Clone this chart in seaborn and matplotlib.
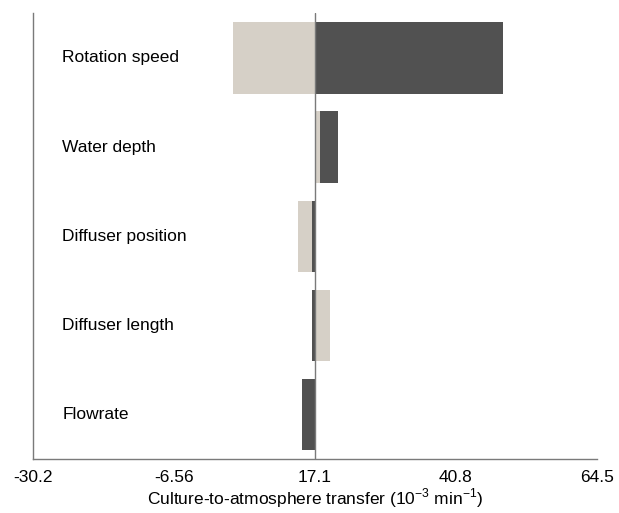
import numpy as np
import pandas as pd
import matplotlib
matplotlib.use("Agg")
import matplotlib.pyplot as plt
import seaborn as sns

# Tornado chart data
factors = ["Rotation speed", "Water depth", "Diffuser position", "Diffuser length", "Flowrate"]
low_vals = [3.3, 18.0, 14.35, 19.7, 17.1]     # light bars
high_vals = [48.7, 21.05, 16.7, 16.7, 14.95]  # dark bars
base = 17.1
tick_vals = [-30.2, -6.56, 17.1, 40.8, 64.5]
tick_labels = ["-30.2", "-6.56", "17.1", "40.8", "64.5"]

light = "#d6d0c7"
dark = "#515151"
axis_col = "#7a7a7a"

sns.set_style("white")
plt.rcParams['font.family'] = ['Liberation Sans', 'DejaVu Sans']
plt.rcParams.update({'text.color': 'black', 'axes.labelcolor': 'black',
                     'xtick.labelcolor': 'black', 'mathtext.fontset': 'custom',
                     'mathtext.rm': 'Liberation Sans'})

# bars are drawn from the baseline, so work with deviations from it
rows = []
for f, lo, hi in zip(factors, low_vals, high_vals):
    d_lo, d_hi = lo - base, hi - base
    long_is_hi = abs(d_hi) >= abs(d_lo)
    rows.append(dict(factor=f, level="low", delta=d_lo, rank="short" if long_is_hi else "long"))
    rows.append(dict(factor=f, level="high", delta=d_hi, rank="long" if long_is_hi else "short"))
df = pd.DataFrame(rows)
pal = {"low": light, "high": dark}

fig = plt.figure(figsize=(6.19, 5.13), dpi=100)
ax = fig.add_axes([0.0538, 0.1053, 0.9107, 0.8687])

# longer bar first, shorter one on top of it
for rk in ["long", "short"]:
    sns.barplot(data=df[df["rank"] == rk], x="delta", y="factor", hue="level",
                order=factors, hue_order=["low", "high"], palette=pal,
                dodge=False, width=0.8, errorbar=None, legend=False,
                linewidth=0, saturation=1, ax=ax)

ax.axvline(0, color=axis_col, lw=1, zorder=5)
ax.set_xlim(tick_vals[0] - base, tick_vals[-1] - base)
ax.set_ylim(len(factors) - 0.5, -0.5)
ax.set_xticks(np.array(tick_vals) - base)
ax.set_xticklabels(tick_labels, fontsize=12.5)
ax.set_yticks([])
ax.set_ylabel("")
ax.set_xlabel(r"Culture-to-atmosphere transfer (10$^{\mathregular{-3}}$ min$^{\mathregular{-1}}$)",
              fontsize=12.5, labelpad=1)
ax.tick_params(axis="x", direction="in", length=5, color=axis_col, pad=8)

for i, f in enumerate(factors):
    ax.text(0.0514, i, f, transform=ax.get_yaxis_transform(), ha="left", va="center", fontsize=12.5)

sns.despine(ax=ax, top=True, right=True)
for s in ["left", "bottom"]:
    ax.spines[s].set_color(axis_col)
    ax.spines[s].set_linewidth(1)

fig.savefig("out.png", dpi=100)
